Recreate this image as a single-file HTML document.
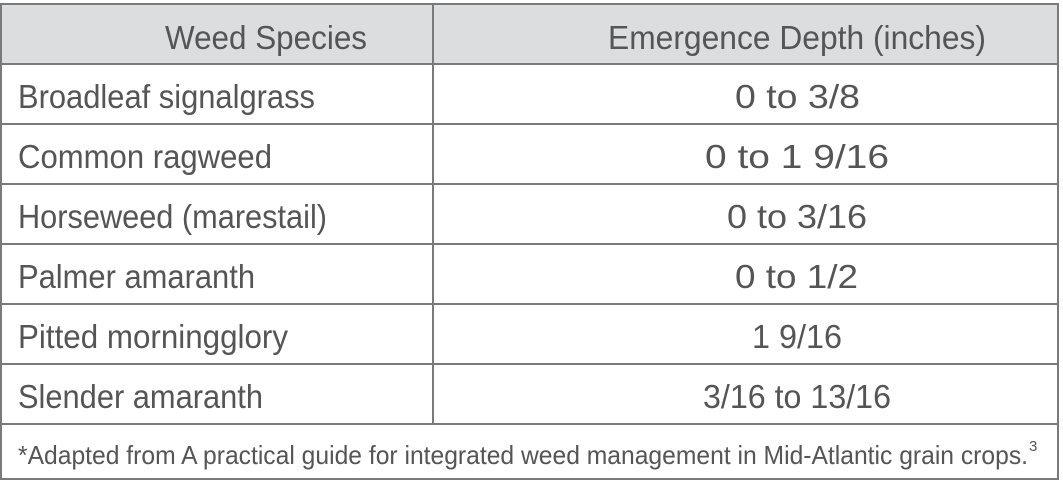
<!DOCTYPE html>
<html><head><meta charset="utf-8"><style>
html,body{margin:0;padding:0;background:#fff;width:1063px;height:494px;overflow:hidden}
svg{display:block}
text{font-family:"Liberation Sans",sans-serif;fill:#555}
</style></head><body>
<svg width="1063" height="494" viewBox="0 0 1063 494">
<rect x="1" y="4" width="1057" height="60" fill="#dcdddf"/>
<g stroke="#7a7a7a" stroke-width="2" fill="none">
<rect x="1" y="4" width="1057" height="475"/>
<line x1="1" y1="64" x2="1058" y2="64"/>
<line x1="1" y1="124" x2="1058" y2="124"/>
<line x1="1" y1="184" x2="1058" y2="184"/>
<line x1="1" y1="244" x2="1058" y2="244"/>
<line x1="1" y1="304" x2="1058" y2="304"/>
<line x1="1" y1="364" x2="1058" y2="364"/>
<line x1="1" y1="424" x2="1058" y2="424"/>
<line x1="433" y1="4" x2="433" y2="424"/>
</g>
<text x="165" y="49" font-size="33" textLength="202" lengthAdjust="spacingAndGlyphs">Weed Species</text>
<text x="608" y="49" font-size="33" textLength="378" lengthAdjust="spacingAndGlyphs">Emergence Depth (inches)</text>

<text x="18" y="108" font-size="33" textLength="297" lengthAdjust="spacingAndGlyphs">Broadleaf signalgrass</text>
<text x="735" y="108" font-size="33" textLength="125" lengthAdjust="spacingAndGlyphs">0 to 3/8</text>

<text x="18" y="168" font-size="33" textLength="254" lengthAdjust="spacingAndGlyphs">Common ragweed</text>
<text x="705" y="168" font-size="33" textLength="184" lengthAdjust="spacingAndGlyphs">0 to 1 9/16</text>

<text x="18" y="228" font-size="33" textLength="309" lengthAdjust="spacingAndGlyphs">Horseweed (marestail)</text>
<text x="727" y="228" font-size="33" textLength="140" lengthAdjust="spacingAndGlyphs">0 to 3/16</text>

<text x="18" y="288" font-size="33" textLength="237" lengthAdjust="spacingAndGlyphs">Palmer amaranth</text>
<text x="735" y="288" font-size="33" textLength="123" lengthAdjust="spacingAndGlyphs">0 to 1/2</text>

<text x="18" y="348" font-size="33" textLength="270" lengthAdjust="spacingAndGlyphs">Pitted morningglory</text>
<text x="752" y="348" font-size="33" textLength="90" lengthAdjust="spacingAndGlyphs">1 9/16</text>

<text x="18" y="408" font-size="33" textLength="245" lengthAdjust="spacingAndGlyphs">Slender amaranth</text>
<text x="703" y="408" font-size="33" textLength="188" lengthAdjust="spacingAndGlyphs">3/16 to 13/16</text>

<text x="18" y="464" font-size="26" textLength="1010" lengthAdjust="spacingAndGlyphs">*Adapted from A practical guide for integrated weed management in Mid-Atlantic grain crops.</text>
<text x="1029" y="451" font-size="15">3</text>
</svg>
</body></html>
